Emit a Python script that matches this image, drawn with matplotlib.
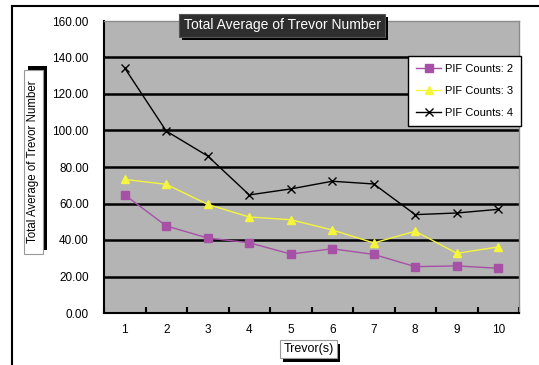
import numpy as np
import matplotlib
matplotlib.use("Agg")
from matplotlib import pyplot as plt
from matplotlib.patches import Rectangle

plt.rcParams['font.family'] = ['Liberation Sans', 'DejaVu Sans']

# data
trevors = [1, 2, 3, 4, 5, 6, 7, 8, 9, 10]
pif2 = [64.7, 47.7, 41.1, 38.5, 32.3, 35.2, 32.1, 25.4, 25.8, 24.5]
pif3 = [73.2, 70.5, 59.5, 52.6, 51.1, 45.5, 38.4, 44.8, 32.7, 36.2]
pif4 = [134.2, 99.7, 86.0, 64.7, 68.0, 72.2, 70.7, 53.9, 54.8, 56.8]
yticks = [0, 20, 40, 60, 80, 100, 120, 140, 160]

W, H = 539, 365
fig = plt.figure(figsize=(W / 100, H / 100), dpi=100)
ax = fig.add_axes([104 / W, 1 - 313 / H, 415 / W, 292 / H])
ax.set_facecolor('#b4b4b4')

x = np.arange(1, 11)
ax.plot(x, pif2, color='#a651a6', marker='s', markersize=6, lw=1, label='PIF Counts: 2', zorder=4)
ax.plot(x, pif3, color='#f5f53c', marker='^', markersize=6, lw=1, label='PIF Counts: 3', zorder=4)
ax.plot(x, pif4, color='black', marker='x', markersize=6, lw=1, mew=1, label='PIF Counts: 4', zorder=4)

ax.set_xlim(0.5, 10.5)
ax.set_ylim(0, 160)
ax.set_yticks(yticks)
ax.set_yticklabels(['%.2f' % v for v in yticks], fontsize=8.5)
for v in yticks[1:-1]:
    ax.axhline(v, color='black', lw=1.8, zorder=2)

ax.set_xticks(x)
ax.set_xticklabels([str(t) for t in trevors], fontsize=8.5)
ax.tick_params(axis='x', which='major', length=0, pad=8)
ax.set_xticks(np.arange(0.5, 11, 1), minor=True)
ax.tick_params(axis='x', which='minor', length=4, direction='in', width=1.5)
ax.tick_params(axis='y', length=0, pad=11)

for s in ['top', 'right']:
    ax.spines[s].set_color('#8c8c8c')
    ax.spines[s].set_linewidth(1)
for s in ['left', 'bottom']:
    ax.spines[s].set_color('black')
    ax.spines[s].set_linewidth(1.5)

leg = ax.legend(loc='upper left', bbox_to_anchor=((408 - 104) / 415, (313 - 56) / 292),
                fontsize=8, frameon=True, fancybox=False, edgecolor='black',
                framealpha=1, borderaxespad=0, labelspacing=1.1, handlelength=2.3,
                borderpad=0.7, handletextpad=0.3)
leg.get_frame().set_linewidth(1)
leg.set_zorder(10)

# outer chart frame
fig.add_artist(plt.Line2D([12 / W, 12 / W], [0, 1 - 6 / H], color='black', lw=1.5))
fig.add_artist(plt.Line2D([12 / W, 1], [1 - 6 / H, 1 - 6 / H], color='black', lw=1.5))


def box(x0, y0, x1, y1, text, dx, dy, rot=0, dark=False, fs=9):
    # shadow first, then the box, in pixel coords from top-left
    fig.add_artist(Rectangle(((x0 + dx) / W, 1 - (y1 + dy) / H), (x1 - x0) / W, (y1 - y0) / H,
                             transform=fig.transFigure, fc='black', ec='none', zorder=20))
    fig.add_artist(Rectangle((x0 / W, 1 - y1 / H), (x1 - x0) / W, (y1 - y0) / H,
                             transform=fig.transFigure, fc='#2e2e2e' if dark else 'white',
                             ec='#555555' if dark else '#999999', lw=0.8, zorder=21))
    fig.text((x0 + x1) / 2 / W, 1 - (y0 + y1) / 2 / H, text, rotation=rot, fontsize=fs,
             ha='center', va='center', color='white' if dark else 'black', zorder=22)


box(179, 14, 385, 37, 'Total Average of Trevor Number', 3, 3, dark=True, fs=10)
box(24, 70, 43, 254, 'Total Average of Trevor Number', 4, -4, rot=90, fs=8.3)
box(280, 340, 337, 358, 'Trevor(s)', 3, 4, fs=9)

fig.savefig('out.png', dpi=100)
